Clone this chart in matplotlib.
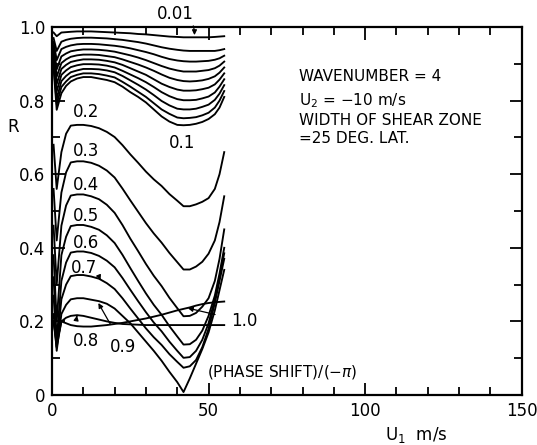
import matplotlib
matplotlib.use("Agg")
import matplotlib.pyplot as plt
from matplotlib.ticker import MultipleLocator

# U1 grid (m/s) at which the curves were read
u1 = [0.5, 1.5, 3, 4.5, 6, 8, 10, 12.5, 15, 17.5, 20, 22.5, 25, 27.5, 30,
      32.5, 35, 37.5, 40, 42, 44, 46, 48, 50, 52, 53.5, 55]

# Upper family: phase shift 0.01 ... 0.1
r_001 = [.985, .975, .985, .986, .987, .988, .988, .988, .987, .986, .985, .984, .983, .981, .980, .978, .976, .974, .973, .972, .972, .972, .972, .972, .973, .974, .975]
r_002 = [.970, .935, .960, .965, .968, .970, .971, .971, .970, .969, .967, .965, .962, .959, .955, .950, .945, .941, .938, .936, .935, .935, .935, .935, .935, .937, .940]
r_003 = [.960, .910, .940, .946, .950, .953, .954, .954, .953, .951, .949, .946, .942, .937, .932, .926, .919, .913, .909, .907, .906, .906, .907, .908, .911, .915, .922]
r_004 = [.950, .885, .920, .928, .934, .937, .939, .939, .938, .936, .933, .928, .923, .917, .910, .902, .894, .887, .882, .879, .879, .879, .881, .883, .888, .895, .906]
r_005 = [.940, .865, .902, .912, .919, .923, .925, .925, .924, .921, .918, .912, .905, .898, .890, .881, .871, .862, .856, .853, .852, .853, .855, .859, .866, .876, .890]
r_006 = [.930, .845, .886, .897, .905, .909, .912, .912, .911, .908, .904, .897, .888, .879, .870, .858, .846, .837, .830, .827, .827, .828, .831, .835, .844, .857, .874]
r_007 = [.920, .825, .870, .882, .891, .896, .899, .899, .898, .895, .890, .881, .871, .861, .850, .837, .823, .812, .804, .801, .801, .802, .806, .811, .822, .838, .858]
r_008 = [.910, .805, .853, .867, .877, .882, .886, .886, .885, .882, .877, .867, .855, .843, .830, .815, .799, .787, .778, .776, .776, .778, .783, .789, .802, .819, .842]
r_009 = [.900, .790, .837, .852, .864, .870, .874, .874, .872, .868, .863, .851, .838, .824, .810, .793, .776, .764, .754, .752, .753, .755, .760, .767, .781, .800, .826]
r_010 = [.890, .775, .820, .840, .852, .860, .864, .864, .860, .856, .850, .838, .823, .810, .795, .776, .757, .743, .734, .733, .734, .737, .742, .750, .763, .781, .810]

# Lower family: phase shift 0.2 ... 1.0
r_02 = [.680, .560, .660, .710, .732, .734, .734, .731, .725, .715, .701, .679, .654, .631, .607, .586, .568, .546, .528, .513, .513, .518, .525, .535, .560, .600, .660]
r_03 = [.560, .420, .550, .605, .632, .635, .635, .631, .623, .610, .591, .561, .529, .498, .467, .439, .414, .386, .361, .341, .341, .349, .362, .384, .420, .470, .540]
r_04 = [.460, .300, .460, .515, .542, .545, .545, .540, .532, .517, .495, .462, .425, .391, .356, .324, .296, .264, .236, .214, .215, .223, .240, .263, .310, .370, .450]
r_05 = [.380, .200, .380, .430, .459, .462, .462, .457, .449, .434, .413, .381, .345, .310, .276, .245, .218, .187, .159, .137, .138, .150, .175, .215, .270, .330, .400]
r_06 = [.320, .150, .310, .360, .387, .390, .390, .386, .378, .365, .347, .318, .286, .255, .225, .197, .173, .145, .120, .101, .103, .120, .150, .195, .260, .320, .385]
r_07 = [.270, .130, .260, .300, .323, .326, .326, .322, .316, .304, .288, .263, .235, .208, .181, .157, .136, .111, .090, .074, .078, .095, .130, .180, .250, .310, .370]
r_08 = [.200, .130, .200, .210, .215, .217, .215, .210, .205, .200, .196, .193, .192, .191, .190, .190, .190, .190, .190, .190, .190, .190, .190, .190, .190, .190, .190]
r_09 = [.220, .120, .220, .245, .260, .263, .263, .259, .255, .248, .235, .215, .195, .170, .145, .120, .093, .063, .035, .008, .045, .085, .125, .170, .230, .285, .340]
r_10 = [.200, .140, .200, .195, .190, .187, .186, .186, .188, .190, .193, .196, .200, .204, .208, .213, .218, .224, .230, .234, .238, .243, .247, .250, .252, .253, .254]

curves = [r_001, r_002, r_003, r_004, r_005, r_006, r_007, r_008, r_009, r_010,
          r_02, r_03, r_04, r_05, r_06, r_07, r_08, r_09, r_10]

x_ticks = [0, 50, 100, 150]
x_tick_labels = ["0", "50", "100", "150"]
y_ticks = [0, 0.2, 0.4, 0.6, 0.8, 1.0]
y_tick_labels = ["0", "0.2", "0.4", "0.6", "0.8", "1.0"]

fig = plt.figure(figsize=(5.37, 4.45), dpi=100)
ax = fig.add_axes([52/537, 50/445, 469.7/537, 368/445])

for r in curves:
    ax.plot(u1, r, color="black", lw=1.35, solid_joinstyle="round")

ax.set_xlim(0, 150)
ax.set_ylim(0, 1.0)
ax.set_xticks(x_ticks)
ax.set_xticklabels(x_tick_labels)
ax.set_yticks(y_ticks)
ax.set_yticklabels(y_tick_labels)
ax.xaxis.set_minor_locator(MultipleLocator(10))
ax.yaxis.set_minor_locator(MultipleLocator(0.1))
ax.tick_params(which="both", direction="in", top=True, right=True, width=1.3, labelsize=12)
ax.tick_params(which="major", length=9)
ax.tick_params(which="minor", length=6)
ax.tick_params(axis="y", pad=5)
ax.tick_params(axis="x", pad=5)
for s in ax.spines.values():
    s.set_linewidth(1.6)

ax.text(-0.083, 0.728, "R", transform=ax.transAxes, fontsize=12, ha="center", va="center")
ax.text(0.775, -0.11, "U$_1$  m/s", transform=ax.transAxes, fontsize=12, ha="center", va="center")

fs = 11
ax.text(79, 0.865, "WAVENUMBER = 4", fontsize=fs, va="center")
ax.text(79, 0.80, "U$_2$ = \u221210 m/s", fontsize=fs, va="center")
ax.text(79, 0.747, "WIDTH OF SHEAR ZONE", fontsize=fs, va="center")
ax.text(79, 0.697, "=25 DEG. LAT.", fontsize=fs, va="center")
ax.text(49.5, 0.063, "(PHASE SHIFT)/(\u2212$\\pi$)", fontsize=fs, va="center")

lab = dict(fontsize=12, ha="center", va="center")
ap = dict(arrowstyle="-|>", color="black", lw=0.9, mutation_scale=7, shrinkA=0, shrinkB=0)
ax.annotate("0.01", xy=(45.5, 0.978), xytext=(39.5, 1.035), annotation_clip=False,
            arrowprops=dict(ap, connectionstyle="angle3,angleA=0,angleB=90"), **lab)
ax.text(41.5, 0.685, "0.1", **lab)
ax.text(11, 0.768, "0.2", **lab)
ax.text(11, 0.662, "0.3", **lab)
ax.text(11, 0.572, "0.4", **lab)
ax.text(11, 0.486, "0.5", **lab)
ax.text(11, 0.413, "0.6", **lab)
ax.annotate("0.7", xy=(15.5, 0.312), xytext=(10.3, 0.345),
            arrowprops=dict(ap, connectionstyle="arc3,rad=-0.3"), **lab)
ax.annotate("0.8", xy=(8.0, 0.216), xytext=(11, 0.148),
            arrowprops=dict(ap, connectionstyle="arc3,rad=-0.3", shrinkA=9), **lab)
ax.annotate("0.9", xy=(14.8, 0.250), xytext=(22.8, 0.130),
            arrowprops=dict(ap, shrinkA=9), **lab)
ax.annotate("1.0", xy=(43.4, 0.236), xytext=(61.5, 0.200),
            arrowprops=dict(ap, shrinkA=10), **lab)

fig.savefig("out.png", dpi=100, facecolor="white")
